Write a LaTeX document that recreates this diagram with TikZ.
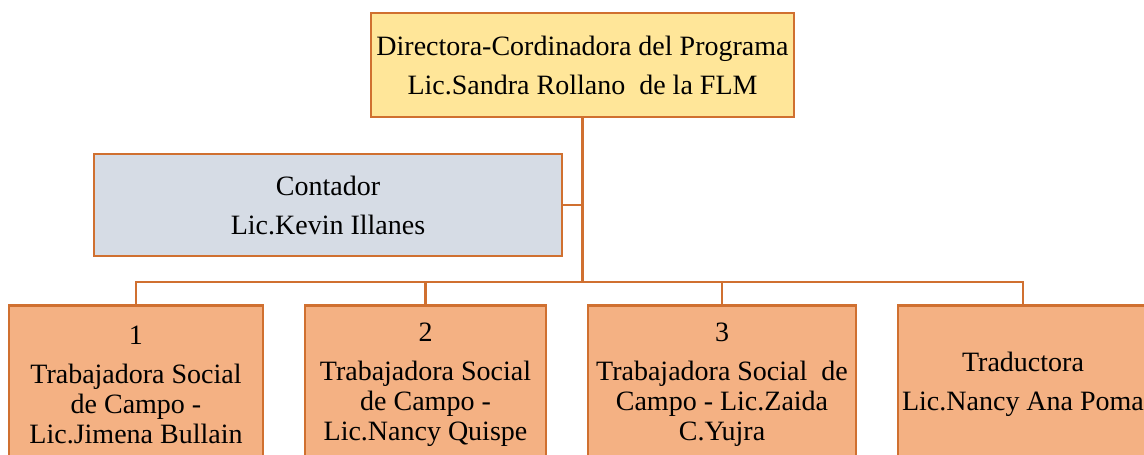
\documentclass[tikz,border=0pt]{standalone}
\usepackage{fontspec}
\setmainfont{Liberation Serif}
\usepackage{tikz}

\definecolor{borde}{RGB}{208,112,48}
\definecolor{amarillo}{RGB}{255,230,153}
\definecolor{gris}{RGB}{214,220,229}
\definecolor{salmon}{RGB}{244,177,131}

\begin{document}
\begin{tikzpicture}[x=1pt, y=1pt,
    cargo/.style = {draw = borde, line width = 2.5pt, align = center, inner sep = 0pt},
    jefe/.style = {cargo, fill = amarillo, font = \fontsize{28}{39}\selectfont},
    apoyo/.style = {cargo, fill = gris, font = \fontsize{28}{39}\selectfont},
    campo/.style = {cargo, fill = salmon, anchor = north, minimum height = 159pt,
        font = \fontsize{28}{30}\selectfont},
    linea/.style = {draw = borde, line width = 2.4pt}]
        \useasboundingbox (0,0) rectangle (1144,-455);
        \clip (0,0) rectangle (1144,-455);
        
        \node[jefe, minimum width = 423pt, minimum height = 104pt] (dir) at (582.5,-65)
        {Directora-Cordinadora del Programa\\Lic.Sandra Rollano\ \ de la FLM};
        
        \node[apoyo, minimum width = 468pt, minimum height = 102pt] (cont) at (328,-205)
        {Contador\\Lic.Kevin Illanes};
        
        \node[campo, minimum width = 254pt] (ts1) at (136,-304)
        {1\\[9pt]Trabajadora Social\\de Campo -\\Lic.Jimena Bullain};
        \node[campo, minimum width = 241pt] (ts2) at (425.5,-304)
        {2\\[9pt]Trabajadora Social\\de Campo -\\Lic.Nancy Quispe};
        \node[campo, minimum width = 268pt] (ts3) at (722,-304)
        {3\\[9pt]Trabajadora Social\ \ de\\Campo - Lic.Zaida\\C.Yujra};
        \node[campo, minimum width = 250pt] (trad) at (1023,-304)
        {Traductora\\[9pt]Lic.Nancy Ana Poma};
        
        \coordinate (bus) at (582.5,-282);
        \draw[linea] (dir.south) -- (bus);
        \draw[linea] (cont.east) -- (cont.east -| dir.south);
        \foreach \n in {ts1,ts2,ts3,trad}
            \draw[linea] (bus) -| (\n.north);
    \end{tikzpicture}
\end{document}
